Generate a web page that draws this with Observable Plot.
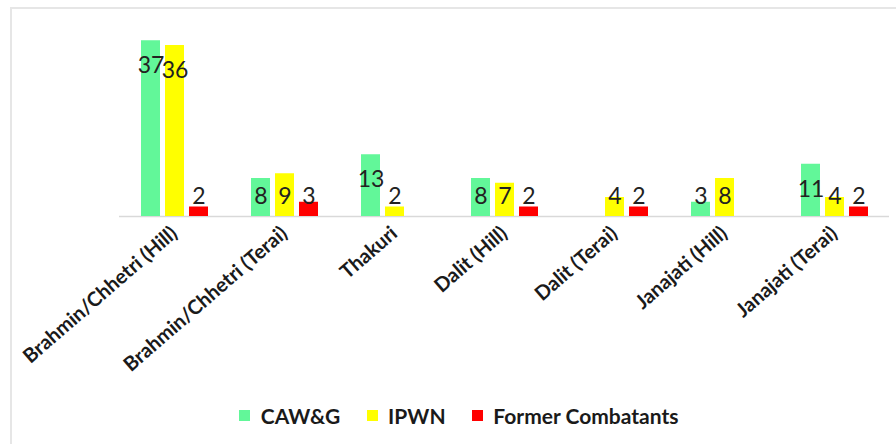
<!DOCTYPE html>
<html>
<head>
<meta charset="utf-8">
<script src="https://cdn.jsdelivr.net/npm/d3@7"></script>
<script src="https://cdn.jsdelivr.net/npm/@observablehq/plot@0.6"></script>
<style>
  html, body { margin: 0; padding: 0; background: #fff; }
  #wrap { position: relative; width: 896px; height: 444px; overflow: hidden; background: #fff; font-family: Lato, sans-serif; }
  #frame { position: absolute; left: 10px; top: 7px; right: 0; bottom: 0; border-left: 2px solid #e6e6e6; border-top: 2px solid #e6e6e6; }
  #chart { position: absolute; left: 0; top: 0; }
  #legend { position: absolute; left: 48px; top: 404px; width: 848px; height: 34px; display: flex; justify-content: center; align-items: center; }
  #legend > div > span { margin-right: 1.25em !important; }
</style>
</head>
<body>
<div id="wrap">
  <div id="frame"></div>
  <div id="chart"></div>
  <div id="legend"></div>
</div>
<script>
const categories = ["Brahmin/Chhetri (Hill)", "Brahmin/Chhetri (Terai)", "Thakuri", "Dalit (Hill)", "Dalit (Terai)", "Janajati (Hill)", "Janajati (Terai)"];
const series = ["CAW&G", "IPWN", "Former Combatants"];
const cawg = [37, 8, 13, 8, 0, 3, 11];
const ipwn = [36, 9, 2, 7, 4, 8, 4];
const former = [2, 3, 0, 2, 2, 0, 2];
const colors = ["#62F799", "#FFFF00", "#FF0000"];

const valuesBySeries = [cawg, ipwn, former];
const data = [];
categories.forEach((c, i) => {
  series.forEach((s, j) => data.push({category: c, series: s, value: valuesBySeries[j][i]}));
});

const chart = Plot.plot({
  width: 896,
  height: 400,
  marginTop: 26,
  marginBottom: 184,
  marginLeft: 119,
  marginRight: 7,
  style: {fontFamily: "Lato, sans-serif", fontSize: "20px", fontWeight: "bold", color: "#1a1a1a", background: "transparent"},
  fx: {domain: categories, paddingInner: 0, paddingOuter: 0, label: null, axis: "bottom", tickRotate: -41, tickSize: 0, tickPadding: 14},
  x: {domain: series, paddingInner: 0.22, paddingOuter: 0.855, axis: null},
  y: {domain: [0, 40], axis: null},
  color: {domain: series, range: colors},
  marks: [
    Plot.ruleY([0], {stroke: "#d9d9d9", strokeWidth: 1.5}),
    Plot.barY(data, {fx: "category", x: "series", y: "value", fill: "series"}),
    Plot.text(data.filter(d => d.value > 0), {
      fx: "category", x: "series",
      y: d => Math.max(d.value, 9.5),
      dy: 25,
      text: d => String(d.value),
      fontSize: 23, fontWeight: "normal", fill: "#222"
    })
  ]
});
document.getElementById("chart").appendChild(chart);

const legend = Plot.legend({
  color: {domain: series, range: colors},
  swatchSize: 11,
  style: {fontFamily: "Lato, sans-serif", fontSize: "21px", fontWeight: "bold", color: "#1a1a1a"}
});
document.getElementById("legend").appendChild(legend);
</script>
</body>
</html>
